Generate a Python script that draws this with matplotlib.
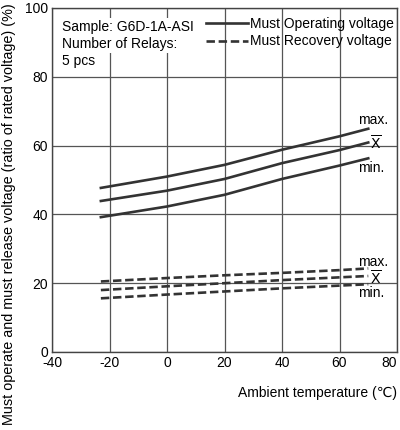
import matplotlib.pyplot as plt

plt.rcParams['font.family'] = ['Liberation Sans', 'DejaVu Sans']
plt.rcParams['axes.unicode_minus'] = False

# ambient temperature (deg C)
temps = [-23, 0, 20, 40, 60, 70]

# must operating voltage (% of rated)
oper_max = [47.7, 51.0, 54.4, 58.8, 62.7, 64.9]
oper_mean = [43.9, 46.9, 50.3, 54.9, 58.7, 60.9]
oper_min = [39.2, 42.3, 45.7, 50.3, 54.2, 56.3]

# must recovery voltage (% of rated)
rec_max = [20.5, 21.5, 22.3, 23.0, 23.8, 24.3]
rec_mean = [18.0, 19.1, 20.0, 20.9, 21.7, 22.1]
rec_min = [15.6, 16.7, 17.6, 18.5, 19.3, 19.7]

col = '#333333'
fs = 10
fig = plt.figure(figsize=(4, 4.3), dpi=100)
ax = fig.add_axes([0.13, 0.1814, 0.8625, 0.8])

l1, = ax.plot(temps, oper_max, color=col, lw=1.9, label='Must Operating voltage')
ax.plot(temps, oper_mean, color=col, lw=1.9)
ax.plot(temps, oper_min, color=col, lw=1.9)
l2, = ax.plot(temps, rec_max, color=col, lw=1.9, dashes=(3.2, 1.4), label='Must Recovery voltage')
ax.plot(temps, rec_mean, color=col, lw=1.9, dashes=(3.2, 1.4))
ax.plot(temps, rec_min, color=col, lw=1.9, dashes=(3.2, 1.4))

ax.set_xlim(-40, 80)
ax.set_ylim(0, 100)
ax.set_xticks(range(-40, 81, 20))
ax.set_yticks(range(0, 101, 20))
ax.grid(True, color='#555555', lw=0.9)
ax.tick_params(length=0, labelsize=fs, pad=3)
for s in ax.spines.values():
    s.set_color('#444444')
    s.set_linewidth(1.0)
xl = ax.get_xticklabels()
xl[-1].set_ha('right')
xl[0].set_ha('center')

# curve labels
ax.text(66.3, 67.5, 'max.', fontsize=fs, ha='left', va='center')
ax.text(70.5, 60.7, r'$\overline{\mathrm{X}}$', fontsize=fs, ha='left', va='center')
ax.text(66.3, 53.5, 'min.', fontsize=fs, ha='left', va='center')
ax.text(66.3, 26.3, 'max.', fontsize=fs, ha='left', va='center')
ax.text(70.5, 21.5, r'$\overline{\mathrm{X}}$', fontsize=fs, ha='left', va='center')
ax.text(66.3, 17.2, 'min.', fontsize=fs, ha='left', va='center')

# sample info
info = ['Sample: G6D-1A-ASI', 'Number of Relays:', '5 pcs']
for i, t in enumerate(info):
    ax.text(0.029, 0.945 - i * 0.05, t, transform=ax.transAxes, fontsize=fs,
            ha='left', va='center',
            bbox=dict(facecolor='white', edgecolor='none', pad=1.5))

leg = ax.legend(handles=[l1, l2], loc='upper left', bbox_to_anchor=(0.43, 0.99),
                frameon=False, fontsize=fs, handlelength=3.0, handletextpad=0.15,
                borderaxespad=0, labelspacing=0.25)

ax.set_xlabel('Ambient temperature (\u2103)', fontsize=fs)
ax.xaxis.set_label_coords(1.0, -0.1)
ax.xaxis.label.set_ha('right')
ax.set_ylabel('Must operate and must release voltage (ratio of rated voltage) (%)', fontsize=10.4)
ax.yaxis.set_label_coords(-0.104, 0.401)

fig.savefig('out.png', dpi=100)
